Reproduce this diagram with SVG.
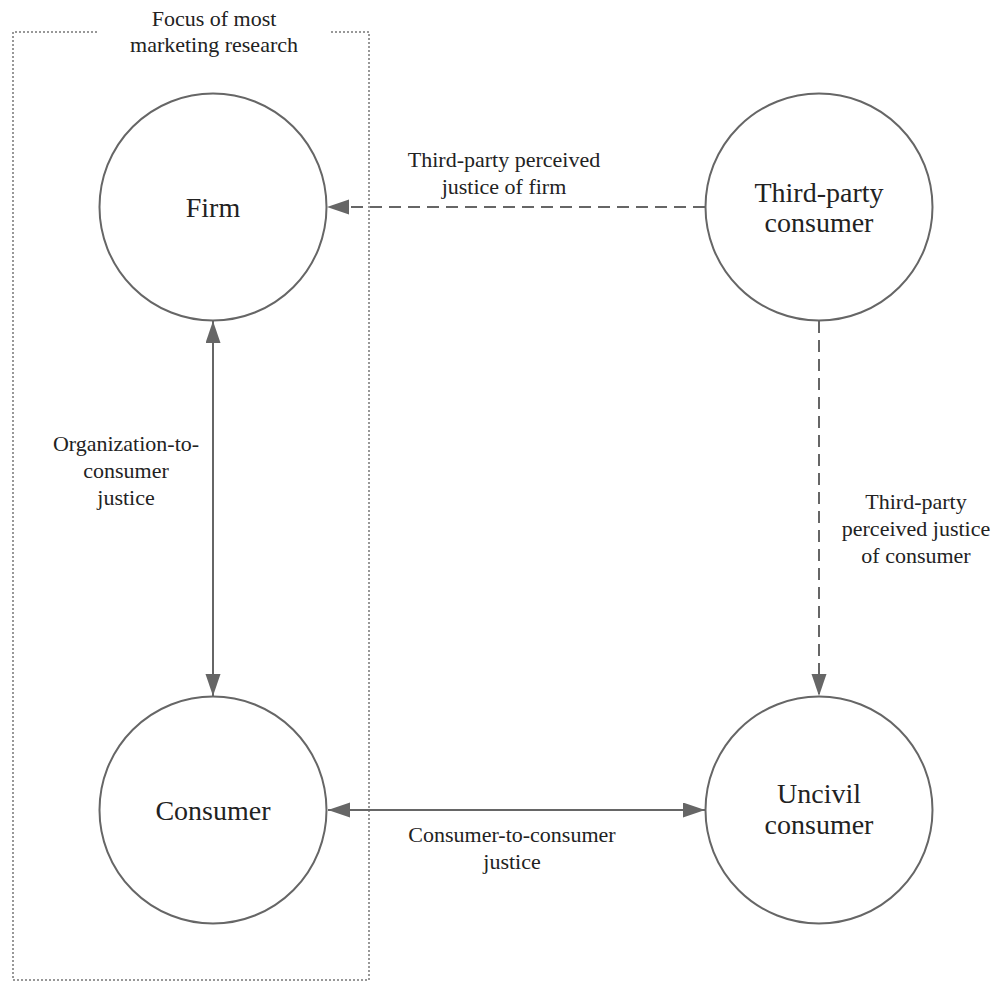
<svg xmlns="http://www.w3.org/2000/svg" width="994" height="982" viewBox="0 0 994 982">
<defs>
<style>
.node{fill:#fff;stroke:#666;stroke-width:2}
.nt{font-family:"Liberation Serif","Times New Roman",serif;font-size:28px;fill:#222;text-anchor:middle}
.lt{font-family:"Liberation Serif","Times New Roman",serif;font-size:22px;fill:#222;text-anchor:middle}
.edge{stroke:#666;stroke-width:2;fill:none}
.dash{stroke-dasharray:12 7}
.box{stroke:#777;stroke-width:1.5;fill:none;stroke-dasharray:2 2}
</style>
<marker id="arr" markerUnits="userSpaceOnUse" markerWidth="24" markerHeight="16" refX="22" refY="7.5" orient="auto-start-reverse" viewBox="0 0 24 16">
<path d="M0,0 L22,7.5 L0,15 z" fill="#666"/>
</marker>
</defs>
<rect width="994" height="982" fill="#fff"/>
<g id="focus-box">
<path class="box" d="M97,32 H13 V980 H369 V32 H330"/>
<text class="lt" x="214" y="26">Focus of most</text>
<text class="lt" x="214" y="52">marketing research</text>
</g>
<g id="connectors">
<line class="edge" x1="213" y1="321" x2="213" y2="696" marker-start="url(#arr)" marker-end="url(#arr)"/>
<line class="edge dash" x1="705" y1="207" x2="327" y2="207" marker-end="url(#arr)"/>
<line class="edge dash" x1="819" y1="321" x2="819" y2="696" marker-end="url(#arr)"/>
<line class="edge" x1="328" y1="810" x2="705" y2="810" marker-start="url(#arr)" marker-end="url(#arr)"/>
<text class="lt" x="504" y="167">Third-party perceived</text>
<text class="lt" x="504" y="194">justice of firm</text>
<text class="lt" x="126" y="451">Organization-to-</text>
<text class="lt" x="126" y="478">consumer</text>
<text class="lt" x="126" y="505">justice</text>
<text class="lt" x="916" y="509">Third-party</text>
<text class="lt" x="916" y="536">perceived justice</text>
<text class="lt" x="916" y="563">of consumer</text>
<text class="lt" x="512" y="842">Consumer-to-consumer</text>
<text class="lt" x="512" y="869">justice</text>
</g>
<g id="firm">
<circle class="node" cx="213" cy="207" r="113.5"/>
<text class="nt" x="213" y="217">Firm</text>
</g>
<g id="third-party-consumer">
<circle class="node" cx="819" cy="207" r="113.5"/>
<text class="nt" x="819" y="202">Third-party</text>
<text class="nt" x="819" y="232">consumer</text>
</g>
<g id="consumer">
<circle class="node" cx="213" cy="810" r="113.5"/>
<text class="nt" x="213" y="820">Consumer</text>
</g>
<g id="uncivil-consumer">
<circle class="node" cx="819" cy="810" r="113.5"/>
<text class="nt" x="819" y="803">Uncivil</text>
<text class="nt" x="819" y="834">consumer</text>
</g>
</svg>
